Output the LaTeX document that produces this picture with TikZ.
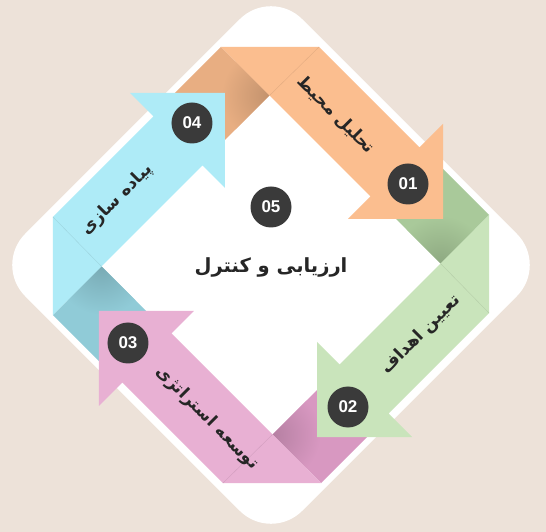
\documentclass[tikz,border=0pt]{standalone}
\usepackage{fontspec}
\newfontfamily\fafont[Script=Arabic]{DejaVu Sans}
\newfontfamily\numfont{Liberation Sans}
\TeXXeTstate=1
\definecolor{bg}{HTML}{EDE2D9}
\definecolor{orLite}{HTML}{FBBE8F}
\definecolor{orDark}{HTML}{E8AE82}
\definecolor{grLite}{HTML}{C9E4BB}
\definecolor{grDark}{HTML}{A9C99A}
\definecolor{pkLite}{HTML}{E8B0D3}
\definecolor{pkDark}{HTML}{D898C1}
\definecolor{blLite}{HTML}{AEEBF7}
\definecolor{blDark}{HTML}{90CBD7}
\definecolor{disc}{HTML}{3A3A3A}
\begin{document}
\begin{tikzpicture}[x=1pt, y=1pt,
    num/.style={circle, fill=disc, minimum size=41pt, inner sep=0pt, text=white,
        font=\numfont\bfseries\fontsize{17}{17}\selectfont},
    lbl/.style={font=\fafont\bfseries\fontsize{17}{20}\selectfont, text=black!85}]
    \fill[bg] (-271,-267) rectangle (275,265);
    \useasboundingbox (-271,-267) rectangle (275,265);
    \fill[white, rounded corners=44] (138.5,138.5) -- (0,277) -- (-277,0) -- (0,-277) -- (277,0) -- cycle;
    % folded tails, under the next arrow
    \foreach \ang/\dk in {0/orDark,-90/grDark,-180/pkDark,-270/blDark}
    {
        \begin{scope}[rotate=\ang]
        \path[fill=\dk] (-50,218) -- (-1.5,169.5) -- (-65.5,105.5) -- (-114,154) -- cycle;
        \clip (-50,218) -- (-1.5,169.5) -- (-65.5,105.5) -- (-114,154) -- cycle;
        \shade[inner color=\dk!84!black, outer color=\dk] (-1.5,169.5) circle (48);
        \end{scope}
    }
    % arrows
    \foreach \ang/\lt in {0/orLite,-90/grLite,-180/pkLite,-270/blLite}
    {
        \begin{scope}[rotate=\ang]
        \fill[\lt] (-50,218) -- (48,218) -- (148.5,117.5) -- (172,141) -- (172,46)
            -- (77,46) -- (99.5,68.5) -- cycle;
        \draw[\lt!90!black, line width=.4pt] (48,218) -- (-1.5,169.5);
        \end{scope}
    }

\node[num] (n01) at (137,81) {01};
\node[num] (n02) at (77,-142) {02};
\node[num] (n03) at (-143,-78) {03};
\node[num] (n04) at (-79,142) {04};
\node[num] (n05) at (0,58) {05};

\node[lbl, rotate=-45] (t01) at (65,150) {\beginR تحلیل محیط\endR};
\node[lbl, rotate=45] (t02) at (150,-70) {\beginR تعیین اهداف\endR};
\node[lbl, rotate=-45] (t03) at (-64,-153) {\beginR توسعه استراتژی\endR};
\node[lbl, rotate=45] (t04) at (-154,65) {\beginR پیاده سازی\endR};
\node[lbl, font=\fafont\bfseries\fontsize{19.5}{24}\selectfont] (t05) at (0,-2) {\beginR ارزیابی و کنترل\endR};
    \end{tikzpicture}
\end{document}
